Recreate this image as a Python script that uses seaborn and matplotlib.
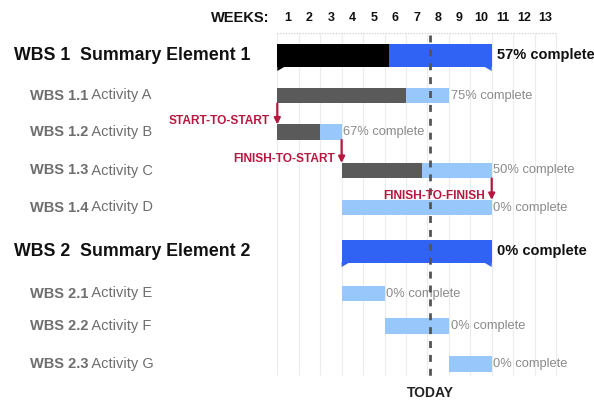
import matplotlib
matplotlib.use("Agg")
import matplotlib.pyplot as plt
from matplotlib import font_manager
from matplotlib.patches import Polygon
from matplotlib.transforms import offset_copy
import seaborn as sns

# ---------------- data ----------------
wbs_ids = ["WBS 1", "WBS 1.1", "WBS 1.2", "WBS 1.3", "WBS 1.4",
           "WBS 2", "WBS 2.1", "WBS 2.2", "WBS 2.3"]
task_names = ["Summary Element 1", "Activity A", "Activity B", "Activity C", "Activity D",
              "Summary Element 2", "Activity E", "Activity F", "Activity G"]
is_summary = [True, False, False, False, False, True, False, False, False]
start_week = [0, 0, 0, 3, 3, 3, 3, 5, 8]          # weeks elapsed before the task starts
duration_weeks = [10, 8, 3, 7, 7, 7, 2, 3, 2]
done_weeks = [5.2, 6.0, 2.0, 3.75, 0, 0, 0, 0, 0]  # completed part as drawn
pct_complete = [57, 75, 67, 50, 0, 0, 0, 0, 0]
week_labels = [str(w) for w in range(1, 14)]
today_week = 7.12

dep_labels = ["START-TO-START", "FINISH-TO-START", "FINISH-TO-FINISH"]
dep_from = [1, 2, 3]
dep_to = [2, 3, 4]
dep_anchor = ["start", "end", "end"]   # which end of the predecessor the arrow leaves from

# ---------------- style ----------------
sns.set_theme(style="white")
avail = {f.name for f in font_manager.fontManager.ttflist}
base_font = "Liberation Sans" if "Liberation Sans" in avail else "DejaVu Sans"
plt.rcParams["font.family"] = [base_font, "DejaVu Sans"]

C_DONE_SUM = "#000000"
C_TODO_SUM = "#3063f4"
C_DONE = "#5a5a5a"
C_TODO = "#98c8fb"
C_RED = "#b8173f"
C_LABEL = "#6e6e6e"

# layout (pixel geometry of the figure)
W, H = 594, 400
X0, WEEK_PX = 277.3, 21.44
row_y = [55.5, 95.5, 132, 170.5, 207.5, 251.5, 293.5, 326, 364]

fig = plt.figure(figsize=(W / 100, H / 100), dpi=100)
ax = fig.add_axes([0, 0, 1, 1])
ax.set_xlim(-X0 / WEEK_PX, (W - X0) / WEEK_PX)
ax.set_ylim(H, 0)
ax.axis("off")

def fx(px):
    return (px - X0) / WEEK_PX

n_weeks = len(week_labels)
# grid
ax.vlines(range(0, n_weeks + 1), 33, 375, color="#ececec", lw=0.8, zorder=0)
ax.hlines(33, 0, n_weeks, color="#c8c8c8", lw=0.8, linestyles=(0, (1, 1.5)), zorder=0)

# week header
ax.text(fx(269), 18, "WEEKS:", ha="right", va="center", fontsize=10.5,
        fontweight="bold", color="#111111")
for i, lab in enumerate(week_labels):
    ax.text(i + 0.5, 18, lab, ha="center", va="center", fontsize=9,
            fontweight="bold", color="#111111")

ytrans = ax.get_yaxis_transform()
pending = []

# bars
for i in range(len(wbs_ids)):
    y = row_y[i]
    s, d, dn = start_week[i], duration_weeks[i], done_weeks[i]
    if is_summary[i]:
        h = 23
        cd, ct = C_DONE_SUM, C_TODO_SUM
    else:
        h = 15.5
        cd, ct = C_DONE, C_TODO
    if dn > 0:
        ax.barh(y, dn, left=s, height=h, color=cd, zorder=2, linewidth=0)
    ax.barh(y, d - dn, left=s + dn, height=h, color=ct, zorder=2, linewidth=0)
    e = s + d
    if is_summary[i]:
        bot = y + h / 2
        lc = cd if dn > 0 else ct
        ax.add_patch(Polygon([(s, bot - 1), (s, bot + 4), (s + 0.4, bot - 1)],
                             closed=True, color=lc, lw=0, zorder=2))
        ax.add_patch(Polygon([(e, bot - 1), (e, bot + 4), (e - 0.4, bot - 1)],
                             closed=True, color=ct, lw=0, zorder=2))
        ax.text(e + 0.25, y, f"{pct_complete[i]}% complete", ha="left", va="center",
                fontsize=10.5, fontweight="bold", color="#111111", zorder=3)
        ax.text(14 / W, y + 5, f"{wbs_ids[i]}  {task_names[i]}", transform=ytrans,
                ha="left", va="baseline", fontsize=12.8, fontweight="bold", color="#111111")
    else:
        ax.text(e + 0.08, y, f"{pct_complete[i]}% complete", ha="left", va="center",
                fontsize=9.3, color="#8a8a8a", zorder=3)
        t1 = ax.text(30 / W, y + 4, wbs_ids[i], transform=ytrans,
                     ha="left", va="baseline", fontsize=10.5, fontweight="bold", color=C_LABEL)
        pending.append((t1, y + 4, task_names[i]))

fig.canvas.draw()
inv = ax.transAxes.inverted()
for t1, yb, name in pending:
    bb = t1.get_window_extent()
    xa = inv.transform((bb.x1, bb.y0))[0]
    ax.text(xa, yb, " " + name, transform=ytrans, ha="left", va="baseline",
            fontsize=10.5, color=C_LABEL)

# today line
ax.vlines(today_week, 35, 381, color="#555555", lw=2, linestyles=(0, (2.5, 2.5)), zorder=4)
ax.text(today_week, 393, "TODAY", ha="center", va="center", fontsize=10,
        fontweight="bold", color="#222222")

# dependencies
for lab, a, b, anc in zip(dep_labels, dep_from, dep_to, dep_anchor):
    x = start_week[a] if anc == "start" else start_week[a] + duration_weeks[a]
    y1 = row_y[a] + 8
    y2 = row_y[b] - 7.5
    ax.annotate("", xy=(x, y2), xytext=(x, y1),
                arrowprops=dict(arrowstyle="-|>", color=C_RED, lw=1.6,
                                mutation_scale=9, shrinkA=0, shrinkB=0), zorder=5)
    ax.text(x - 0.33, y2 - 4, lab, ha="right", va="center", fontsize=8.6,
            fontweight="bold", color=C_RED, zorder=5)

fig.savefig("out.png", dpi=100)
